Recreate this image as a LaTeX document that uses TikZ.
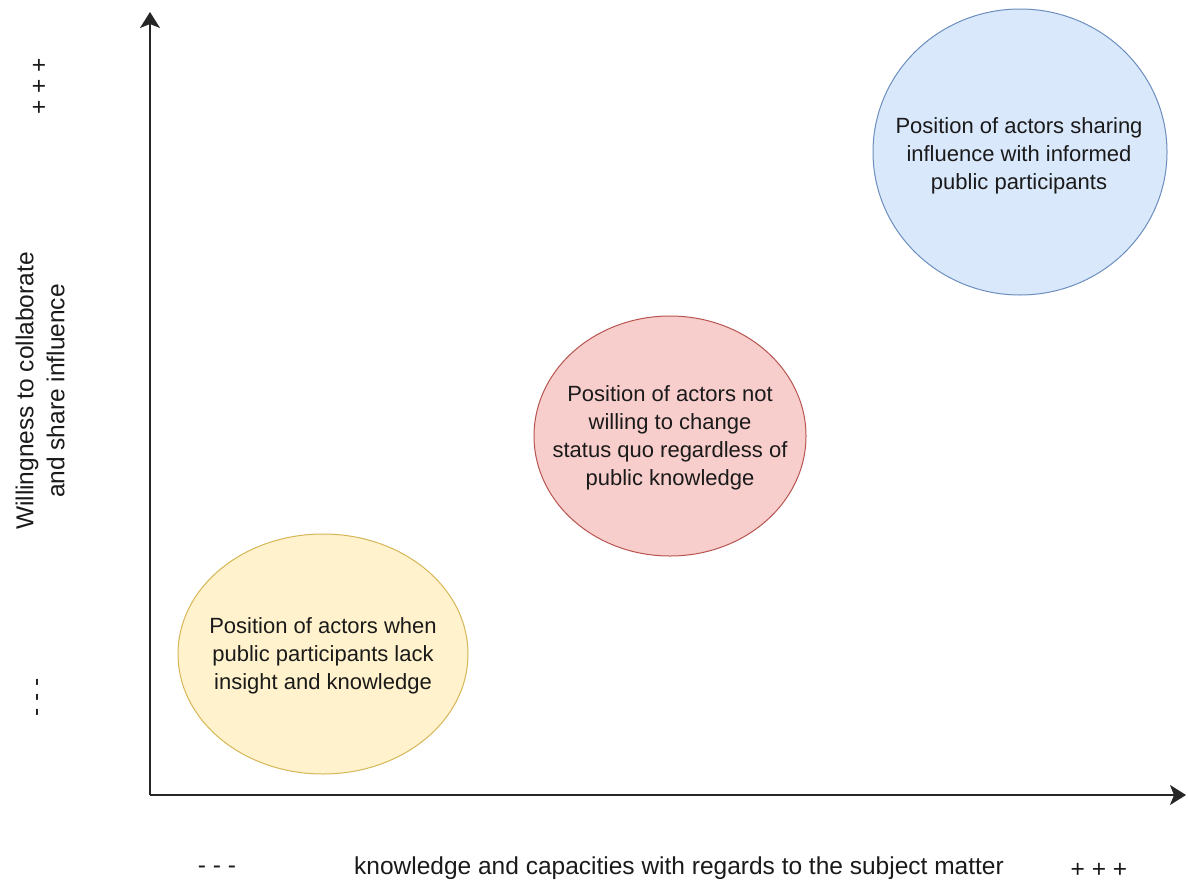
\documentclass[tikz,border=0pt]{standalone}
\usepackage{fontspec}
\setmainfont{Liberation Sans}
\usetikzlibrary{shapes.geometric,arrows.meta}
\definecolor{bluefill}{HTML}{DAE8FC}
\definecolor{bluedraw}{HTML}{6C8EBF}
\definecolor{redfill}{HTML}{F8CECC}
\definecolor{reddraw}{HTML}{B85450}
\definecolor{yelfill}{HTML}{FFF2CC}
\definecolor{yeldraw}{HTML}{D6B656}
\definecolor{txtcol}{HTML}{1A1A1A}
\tikzset{
  blob/.style={ellipse, inner sep=0pt, line width=1pt},
  intext/.style={align=center, font=\fontsize{22}{28}\selectfont, text=txtcol, inner sep=0pt},
  axlabel/.style={align=center, font=\fontsize{24.5}{31}\selectfont, text=txtcol, inner sep=0pt},
  axis/.style={line width=1.6pt, draw=black!85, -{Stealth[length=16pt,width=20pt,inset=4pt]}}
}
\begin{document}
\begin{tikzpicture}[x=1pt,y=-1pt]
\useasboundingbox (0,0) rectangle (1188,881);
\coordinate (origin) at (150,795);
\coordinate (ytip) at (150,12);
\coordinate (xtip) at (1186,795);
\draw[axis] (origin) -- (ytip);
\draw[axis] (origin) -- (xtip);

\node[blob, fill=bluefill, draw=bluedraw, minimum width=294pt, minimum height=286pt] (blue) at (1020,152) {};
\node[intext] (bluetxt) at (1019,156) {Position of actors sharing\\influence with informed\\public participants};

\node[blob, fill=redfill, draw=reddraw, minimum width=272pt, minimum height=240pt] (red) at (670,436) {};
\node[intext] (redtxt) at (670,438) {Position of actors not\\willing to change\\status quo regardless of\\public knowledge};

\node[blob, fill=yelfill, draw=yeldraw, minimum width=290pt, minimum height=240pt] (yel) at (323,654) {};
\node[intext] (yeltxt) at (323,656) {Position of actors when\\public participants lack\\insight and knowledge};

\node[axlabel, rotate=90] (ylab) at (40,391) {Willingness to collaborate\\and share influence};
\node[axlabel, rotate=90] (yplus) at (40,86) {+ + +};
\node[axlabel, rotate=90] (yminus) at (40,697) {- - -};

\node[axlabel] (xlab) at (679,868) {knowledge and capacities with regards to the subject matter};
\node[axlabel] (xminus) at (217,870) {- - -};
\node[axlabel] (xplus) at (1099,870) {+ + +};
\end{tikzpicture}
\end{document}
